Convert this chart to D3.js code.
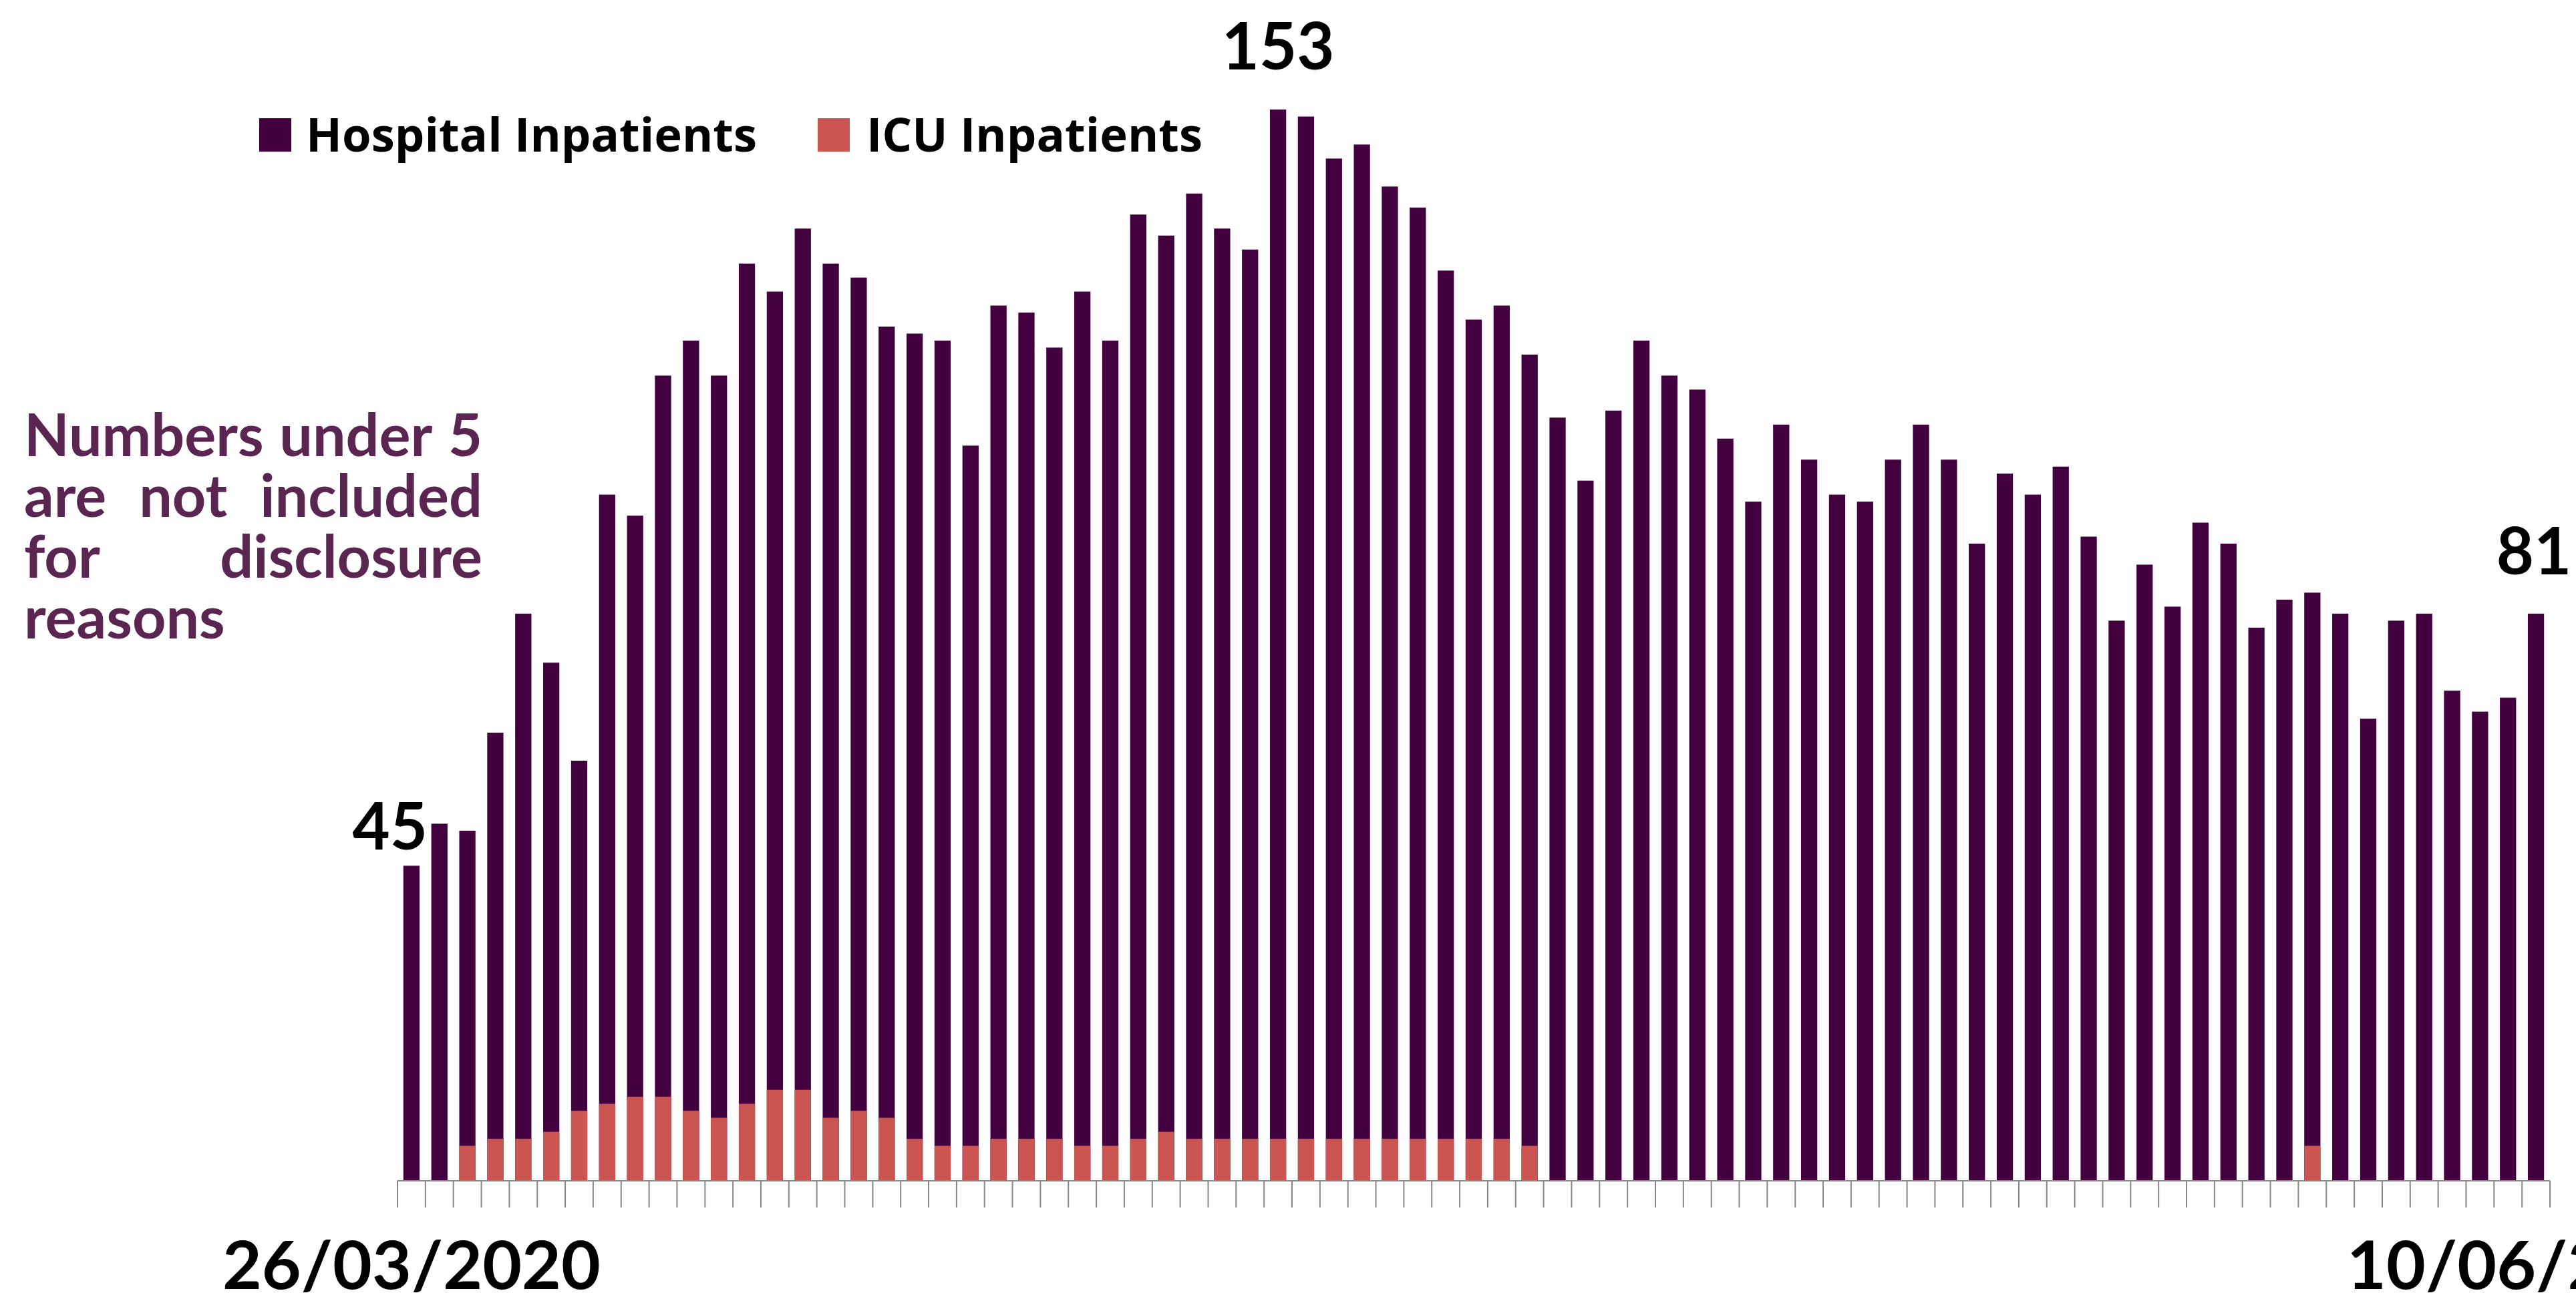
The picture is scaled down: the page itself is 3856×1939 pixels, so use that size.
<!DOCTYPE html>
<html><head><meta charset="utf-8">
<script src="https://cdn.jsdelivr.net/npm/d3@7"></script>
<style>html,body{margin:0;padding:0;background:#fff;overflow:hidden;} svg{display:block;}</style>
</head><body>
<svg id="chart" width="3856" height="1939"></svg>
<script>
// ---- data ----
const dates = [
 "26/03/2020","27/03/2020","28/03/2020","29/03/2020","30/03/2020","31/03/2020",
 "01/04/2020","02/04/2020","03/04/2020","04/04/2020","05/04/2020","06/04/2020","07/04/2020","08/04/2020","09/04/2020","10/04/2020",
 "11/04/2020","12/04/2020","13/04/2020","14/04/2020","15/04/2020","16/04/2020","17/04/2020","18/04/2020","19/04/2020","20/04/2020",
 "21/04/2020","22/04/2020","23/04/2020","24/04/2020","25/04/2020","26/04/2020","27/04/2020","28/04/2020","29/04/2020","30/04/2020",
 "01/05/2020","02/05/2020","03/05/2020","04/05/2020","05/05/2020","06/05/2020","07/05/2020","08/05/2020","09/05/2020","10/05/2020",
 "11/05/2020","12/05/2020","13/05/2020","14/05/2020","15/05/2020","16/05/2020","17/05/2020","18/05/2020","19/05/2020","20/05/2020",
 "21/05/2020","22/05/2020","23/05/2020","24/05/2020","25/05/2020","26/05/2020","27/05/2020","28/05/2020","29/05/2020","30/05/2020","31/05/2020",
 "01/06/2020","02/06/2020","03/06/2020","04/06/2020","05/06/2020","06/06/2020","07/06/2020","08/06/2020","09/06/2020","10/06/2020"
];
const hospitalInpatients = [
 45,51,50,64,81,74,60,98,95,115,120,115,131,127,136,131,129,122,121,120,
 105,125,124,119,127,120,138,135,141,136,133,153,152,146,148,142,139,130,123,125,
 118,109,100,110,120,115,113,106,97,108,103,98,97,103,108,103,91,101,98,102,
 92,80,88,82,94,91,79,83,84,81,66,80,81,70,67,69,81
];
const icuInpatients = [
 0,0,5,6,6,7,10,11,12,12,10,9,11,13,13,9,10,9,6,5,
 5,6,6,6,5,5,6,7,6,6,6,6,6,6,6,6,6,6,6,6,
 5,0,0,0,0,0,0,0,0,0,0,0,0,0,0,0,0,0,0,0,
 0,0,0,0,0,0,0,0,5,0,0,0,0,0,0,0,0
];
const tickLabels = ["26/03/2020", "10/06/2020"];
const seriesNames = ["Hospital Inpatients", "ICU Inpatients"];
const noteLines = [["Numbers","under","5"],["are","not","included"],["for","disclosure"],["reasons"]];

// ---- style ----
const colHosp = "#42003e", colICU = "#cb5651", colNote = "#5b2551", colAxis = "#888888";

const svg = d3.select("#chart");
const x = d3.scaleBand().domain(dates).range([595, 3817]).paddingInner(0.42).paddingOuter(0.21);
const y = d3.scaleLinear().domain([0, d3.max(hospitalInpatients)]).range([1768, 164]);
const step = x.step();
const cx = d => x(d) + x.bandwidth() / 2;

// bars
svg.append("g").selectAll("rect").data(dates).join("rect")
  .attr("x", d => x(d)).attr("width", x.bandwidth())
  .attr("y", (d, i) => y(hospitalInpatients[i]))
  .attr("height", (d, i) => y(0) - y(hospitalInpatients[i]))
  .attr("fill", colHosp);
svg.append("g").selectAll("rect").data(dates.filter((d, i) => icuInpatients[i] > 0)).join("rect")
  .attr("x", d => x(d)).attr("width", x.bandwidth())
  .attr("y", d => y(icuInpatients[dates.indexOf(d)]))
  .attr("height", d => y(0) - y(icuInpatients[dates.indexOf(d)]))
  .attr("fill", colICU);

// axis line + boundary ticks
const axisY = y(0);
const ax = svg.append("g");
ax.append("line").attr("x1", x.range()[0]).attr("x2", x.range()[1])
  .attr("y1", axisY).attr("y2", axisY).attr("stroke", colAxis).attr("stroke-width", 2);
const bounds = dates.map(d => x(d) - step * x.paddingOuter()).concat([x.range()[1]]);
ax.selectAll("line.t").data(bounds).join("line").attr("class", "t")
  .attr("x1", b => b).attr("x2", b => b).attr("y1", axisY).attr("y2", axisY + 40)
  .attr("stroke", colAxis).attr("stroke-width", 2);

// date labels
svg.append("g").selectAll("text").data(tickLabels).join("text")
  .attr("x", d => cx(d)).attr("y", 1930)
  .attr("text-anchor", "middle")
  .attr("font-family", "Lato, sans-serif").attr("font-weight", 700).attr("font-size", 100)
  .attr("textLength", 566).attr("lengthAdjust", "spacingAndGlyphs")
  .attr("fill", "#000").text(d => d);

// value labels: first, max, last
const iFirst = 0, iMax = d3.maxIndex(hospitalInpatients), iLast = hospitalInpatients.length - 1;
const lab = svg.append("g").attr("font-family", "Lato, sans-serif").attr("font-weight", 700)
  .attr("font-size", 97).attr("fill", "#000");
lab.append("text").attr("x", cx(dates[iFirst]) + 24).attr("y", y(hospitalInpatients[iFirst]) - 24)
  .attr("text-anchor", "end").text(hospitalInpatients[iFirst]);
lab.append("text").attr("x", cx(dates[iMax])).attr("y", y(hospitalInpatients[iMax]) - 60)
  .attr("text-anchor", "middle").text(hospitalInpatients[iMax]);
lab.append("text").attr("x", cx(dates[iLast]) - 3).attr("y", y(hospitalInpatients[iLast]) - 59)
  .attr("text-anchor", "middle").text(hospitalInpatients[iLast]);

// legend
const leg = [
  {name: seriesNames[0], col: colHosp, sx: 388, tx: 458, tl: 675},
  {name: seriesNames[1], col: colICU, sx: 1224, tx: 1297, tl: 503}
];
const lg = svg.append("g");
leg.forEach(l => {
  lg.append("rect").attr("x", l.sx).attr("y", 177).attr("width", 48).attr("height", 50).attr("fill", l.col);
  lg.append("text").attr("x", l.tx).attr("y", 227)
    .attr("font-family", "'Open Sans', sans-serif").attr("font-weight", 700).attr("font-size", 70)
    .attr("textLength", l.tl).attr("lengthAdjust", "spacingAndGlyphs")
    .attr("fill", "#000").text(l.name);
});

// justified note (one text element, one tspan per word)
const noteLeft = 36, noteRight = 722, noteTop = 683, noteLH = 91;
const note = svg.append("text").attr("font-family", "Lato, sans-serif").attr("font-weight", 700)
  .attr("font-size", 88).attr("fill", colNote);
// measure words
const meas = svg.append("text").attr("font-family", "Lato, sans-serif").attr("font-weight", 700)
  .attr("font-size", 88).attr("visibility", "hidden");
const wlen = w => { meas.text(w); return meas.node().getComputedTextLength(); };
const spaceW = wlen("a a") - wlen("aa");
noteLines.forEach((words, li) => {
  const yy = noteTop + li * noteLH;
  const widths = words.map(wlen);
  const last = li === noteLines.length - 1;
  const gap = (last || words.length === 1) ? spaceW
    : (noteRight - noteLeft - d3.sum(widths)) / (words.length - 1);
  let xx = noteLeft;
  words.forEach((w, k) => {
    note.append("tspan").attr("x", xx).attr("y", yy).text(w);
    xx += widths[k] + gap;
  });
});
meas.remove();
</script>
</body></html>
